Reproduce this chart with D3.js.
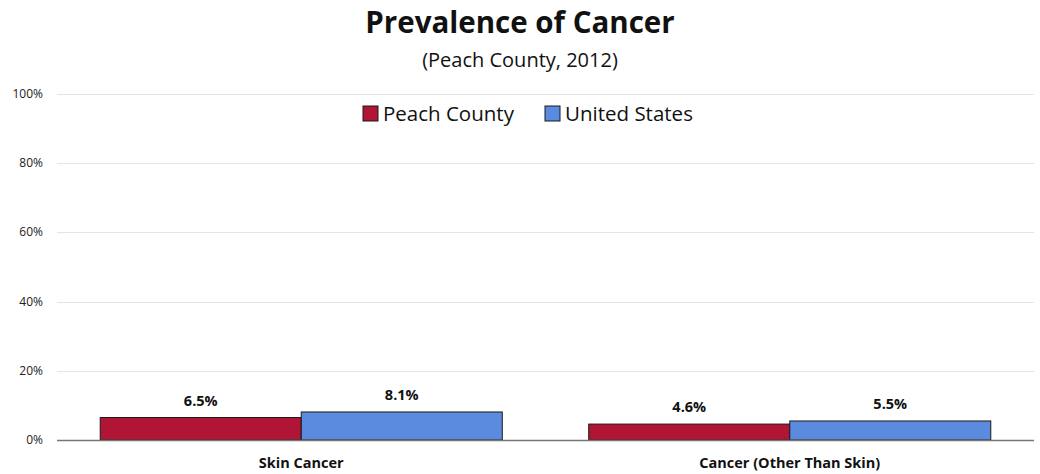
<!DOCTYPE html>
<html><head><meta charset="utf-8">
<script src="https://cdn.jsdelivr.net/npm/d3@7"></script>
<style>body{margin:0;background:#fff;font-family:"Open Sans","Noto Sans",sans-serif;}</style>
</head><body>
<svg id="c" width="1040" height="474"></svg>
<script>
const categories = ["Skin Cancer", "Cancer (Other Than Skin)"];
const seriesNames = ["Peach County", "United States"];
const peachValues = [6.5, 4.6];
const usValues = [8.1, 5.5];
const tickValues = [0, 20, 40, 60, 80, 100];
const colors = ["#B01535", "#5B8BDE"];

(function () {
const svg = d3.select("#c");
const W = 1040;
const mLeft = 57, mRight = 1034, mTop = 94, mBottom = 440;

const y = d3.scaleLinear().domain([0, 100]).range([mBottom, mTop]);
const x0 = d3.scaleBand().domain(categories).range([mLeft, mRight]).padding(0);
const x1 = d3.scaleBand().domain(seriesNames).range([0, x0.bandwidth()]).paddingInner(0).paddingOuter(0.215);

// gridlines
svg.append("g").selectAll("line").data(tickValues.filter(d => d > 0)).join("line")
  .attr("x1", mLeft).attr("x2", mRight)
  .attr("y1", d => Math.round(y(d)) + 0.5).attr("y2", d => Math.round(y(d)) + 0.5)
  .attr("stroke", "#e4e4e4").attr("stroke-width", 1);

// y tick labels
svg.append("g").selectAll("text").data(tickValues).join("text")
  .attr("x", 43).attr("y", d => y(d) + 4)
  .attr("text-anchor", "end").attr("font-size", 12).attr("fill", "#222")
  .text(d => d + "%");

const data = categories.map((c, i) => ({cat: c, vals: [peachValues[i], usValues[i]]}));

const groups = svg.append("g").selectAll("g").data(data).join("g")
  .attr("transform", d => `translate(${x0(d.cat)},0)`);

groups.selectAll("rect").data(d => d.vals.map((v, j) => ({s: seriesNames[j], v, j}))).join("rect")
  .attr("x", d => x1(d.s)).attr("width", x1.bandwidth())
  .attr("y", d => y(d.v)).attr("height", d => mBottom - y(d.v))
  .attr("fill", d => colors[d.j]).attr("stroke", "#1a1a1a").attr("stroke-width", 1);

groups.selectAll("text.val").data(d => d.vals.map((v, j) => ({s: seriesNames[j], v, j}))).join("text")
  .attr("class", "val")
  .attr("x", d => x1(d.s) + x1.bandwidth() / 2).attr("y", d => y(d.v) - 12)
  .attr("text-anchor", "middle").attr("font-size", 14.5).attr("font-weight", "bold").attr("fill", "#111")
  .text(d => d.v.toFixed(1) + "%");

// axis line
svg.append("line").attr("x1", mLeft).attr("x2", mRight).attr("y1", mBottom + 0.5).attr("y2", mBottom + 0.5)
  .attr("stroke", "#777").attr("stroke-width", 1.5);

// category labels
svg.append("g").selectAll("text").data(categories).join("text")
  .attr("x", d => x0(d) + x0.bandwidth() / 2).attr("y", 468)
  .attr("text-anchor", "middle").attr("font-size", 14.5).attr("font-weight", "bold").attr("fill", "#111")
  .text(d => d);

// title
svg.append("text").attr("x", W / 2).attr("y", 33).attr("text-anchor", "middle")
  .attr("font-size", 29.5).attr("font-weight", "bold").attr("fill", "#111").text("Prevalence of Cancer");
svg.append("text").attr("x", W / 2).attr("y", 67).attr("text-anchor", "middle")
  .attr("font-size", 20).attr("fill", "#111").text("(Peach County, 2012)");

// legend
const legX = [363, 545];
const leg = svg.append("g").selectAll("g").data(seriesNames).join("g")
  .attr("transform", (d, i) => `translate(${legX[i]},106)`);
leg.append("rect").attr("width", 15).attr("height", 15).attr("fill", (d, i) => colors[i])
  .attr("stroke", "#1a1a1a").attr("stroke-width", 1);
leg.append("text").attr("x", 20).attr("y", 14.5).attr("font-size", 20.5).attr("fill", "#111").text(d => d);
})();
</script>
</body></html>
